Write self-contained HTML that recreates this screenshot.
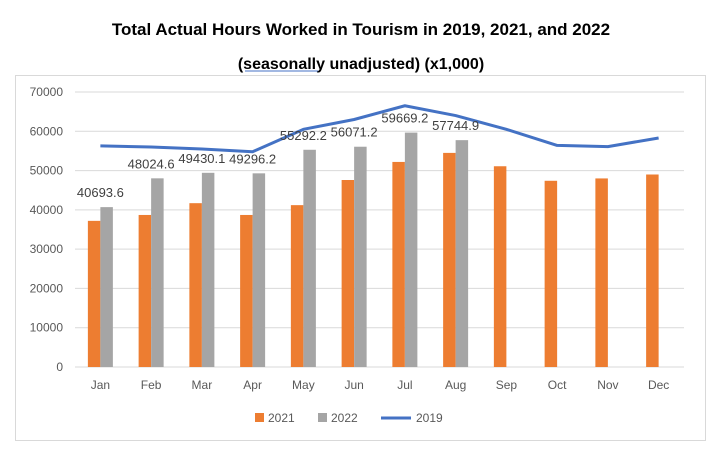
<!DOCTYPE html>
<html><head><meta charset="utf-8"><style>
body{margin:0;background:#fff;width:722px;height:457px;overflow:hidden;font-family:"Liberation Sans",sans-serif}
</style></head><body>
<svg width="722" height="457">
<text x="361" y="35" text-anchor="middle" font-size="17" font-weight="bold">Total Actual Hours Worked in Tourism in 2019, 2021, and 2022</text>
<text x="361" y="69" text-anchor="middle" font-size="16" font-weight="bold">(seasonally unadjusted) (x1,000)</text>
<line x1="245" y1="71" x2="318" y2="71" stroke="#4472c4" stroke-width="1"/>
<rect x="15.5" y="75.5" width="690" height="365" fill="none" stroke="#d9d9d9"/>
<g id="grid"></g><g id="bars"></g><g id="line"></g><g id="labels"></g>
<g font-size="12" fill="#595959">
<rect x="255" y="413" width="9" height="9" fill="#ed7d31"/>
<text x="268" y="422">2021</text>
<rect x="318" y="413" width="9" height="9" fill="#a5a5a5"/>
<text x="331" y="422">2022</text>
<line x1="381" y1="418" x2="411" y2="418" stroke="#4472c4" stroke-width="3"/>
<text x="416" y="422">2019</text>
</g>
</svg>
<script>
const categories=["Jan","Feb","Mar","Apr","May","Jun","Jul","Aug","Sep","Oct","Nov","Dec"];
const values2021=[37200,38700,41700,38700,41200,47600,52200,54500,51100,47400,48000,49000];
const values2022=[40693.6,48024.6,49430.1,49296.2,55292.2,56071.2,59669.2,57744.9];
const values2019=[56300,56000,55500,54800,60500,63000,66500,64000,60500,56400,56100,58300];
const yTicks=[0,10000,20000,30000,40000,50000,60000,70000];
const NS="http://www.w3.org/2000/svg";
const x0=75,x1=684,yb=367,yt=92,yMax=70000;
const band=(x1-x0)/categories.length;
const xc=i=>x0+band*(i+0.5);
const y=v=>yb-(v/yMax)*(yb-yt);
function mk(tag,attrs,parent){const e=document.createElementNS(NS,tag);for(const k in attrs)e.setAttribute(k,attrs[k]);document.getElementById(parent).appendChild(e);return e;}
yTicks.forEach(t=>{
 const l=mk("line",{x1:x0,x2:x1,y1:y(t),y2:y(t),stroke:"#d9d9d9"},"grid");
 
 
 const tx=mk("text",{x:x0-12,y:y(t)+4,"text-anchor":"end","font-size":12,fill:"#595959"},"grid");
 tx.textContent=t;
 
 
});
categories.forEach((c,i)=>{
 const tx=mk("text",{x:xc(i),y:yb+22,"text-anchor":"middle","font-size":12,fill:"#595959"},"grid");
 tx.textContent=c;
 
 
});
const bw=12.5;
values2021.forEach((v,i)=>{
 const r=mk("rect",{x:xc(i)-bw,y:y(v),width:bw,height:yb-y(v),fill:"#ed7d31"},"bars");
 
 
});
values2022.forEach((v,i)=>{
 const r=mk("rect",{x:xc(i),y:y(v),width:bw,height:yb-y(v),fill:"#a5a5a5"},"bars");
 
 
 const tx=mk("text",{x:xc(i),y:y(v)-10,"text-anchor":"middle","font-size":13,fill:"#404040"},"labels");
 tx.textContent=v.toFixed(1);
 
 
});
const p=mk("polyline",{points:values2019.map((v,i)=>xc(i)+","+y(v)).join(" "),fill:"none",stroke:"#4472c4","stroke-width":3,"stroke-linejoin":"round"},"line");


</script>
</body></html>
